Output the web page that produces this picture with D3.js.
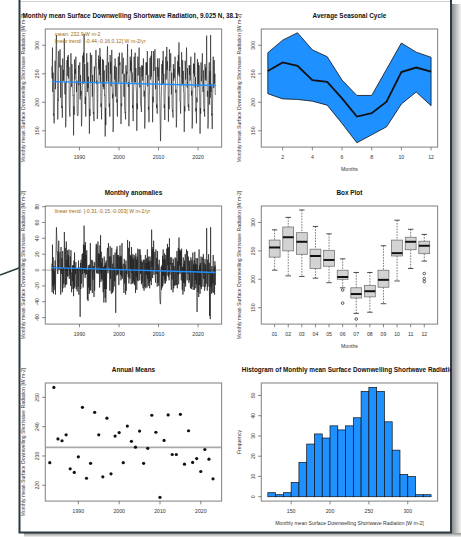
<!DOCTYPE html>
<html><head><meta charset="utf-8">
<script src="https://cdn.jsdelivr.net/npm/d3@7"></script>
<style>
body{margin:0;background:#fff;}
svg text{font-family:"Liberation Sans",Arial,Helvetica,sans-serif;}
</style></head>
<body><svg id="c" width="461" height="537"></svg>
<script>
// ---------------- DATA ----------------
const startYear = 1983;
const monthlyValues = [
263,242,296,218,252,177,180,163,200,228,273,223,
262,300,318,282,260,225,170,205,203,290,261,262,
272,293,270,208,265,202,190,194,173,277,238,257,
238,253,312,258,214,235,156,172,237,235,274,246,
280,262,283,242,262,196,180,175,218,233,286,237,
227,267,250,245,212,213,142,193,178,275,240,258,
250,280,240,218,238,180,177,176,180,265,230,247,
258,270,205,248,212,220,158,168,221,248,282,232,
287,270,320,235,267,197,210,175,220,248,286,247,
218,270,225,245,214,210,145,188,176,287,235,248,
262,283,243,210,248,195,180,183,167,263,235,257,
258,280,292,272,232,238,171,178,237,248,282,258,
275,248,295,235,280,192,198,170,210,240,276,235,
227,274,223,256,212,213,140,190,160,265,237,258,
278,298,260,236,270,210,192,198,175,283,250,271,
228,240,292,240,207,215,148,160,220,232,264,240,
277,265,210,245,262,200,205,175,220,248,280,235,
237,287,265,270,230,225,162,198,193,287,250,258,
260,278,250,210,250,190,182,183,170,265,235,254,
250,270,302,250,227,235,158,182,237,242,280,255,
273,252,293,235,252,190,195,167,215,236,280,235,
237,287,235,260,227,220,150,198,188,280,247,263,
272,296,260,226,262,202,194,194,183,265,245,264,
238,247,277,245,210,220,154,165,220,230,270,248,
270,248,290,228,248,187,192,165,212,230,278,240,
242,282,245,290,240,233,165,210,200,290,255,266,
272,293,257,223,262,202,190,196,180,277,245,261,
238,250,277,230,200,165,132,155,205,228,267,232,
273,250,290,232,250,190,196,169,214,236,280,240,
252,297,257,272,242,235,166,210,188,293,255,263,
262,286,247,214,252,195,184,186,173,267,238,259,
243,250,280,250,217,222,156,170,225,230,272,248,
283,252,305,245,262,202,200,180,225,240,288,247,
230,274,233,255,220,215,148,193,184,273,240,253,
272,296,257,226,260,202,192,196,185,265,248,265,
238,247,280,245,212,220,154,166,223,228,268,250,
267,245,287,226,244,184,190,163,208,200,276,235,
227,270,230,265,217,213,145,190,180,270,237,248,
265,286,250,218,256,196,184,188,175,267,240,261,
238,253,317,248,210,220,154,166,221,248,270,196,
255,208,318,218,232,177,180,153,198,236,280,225,
227,274,233,250,217,213
];
const meanValue = 232.9;
const trendSlope = -0.16;        // W m-2 / yr (from label)
const anomTrendSlope = -0.15;

const monthNumbers = [1,2,3,4,5,6,7,8,9,10,11,12];
const monthLabels = ["01","02","03","04","05","06","07","08","09","10","11","12"];
const seasonalMean = [255,270,264,239,236,207,175,181,201,253,261,254];
const seasonalMax  = [287,309,322,292,280,239,212,212,258,304,288,279];
const seasonalMin  = [215,206,205,202,195,163,129,143,157,197,218,194];

const boxLow  = [216,206,205,202,194,185,140,142,157,197,219,232];
const boxQ1   = [239,250,244,219,223,200,167,169,186,241,252,245];
const boxMed  = [256,274,266,241,234,204,174,179,199,246,266,259];
const boxQ3   = [269,292,282,253,251,216,185,189,216,269,274,267];
const boxHigh = [287,309,322,293,280,236,212,212,259,304,288,279];
const outlierMonth = [6,6,7,12,12,12];
const outlierValue = [181,158,130,210,201,196];

const annualYears = d3.range(1983, 2024);
const annualMeans = [227.7,253.4,235.8,235.2,237.2,225.6,224.4,229.7,246.6,222.4,
  227.5,244.9,237.2,222.9,242.9,223.9,236.8,238.0,227.7,240.2,
  235.0,233.0,238.5,227.5,232.6,243.9,238.1,215.9,235.3,244.0,
  230.5,230.5,244.2,227.2,238.6,227.8,229.1,224.7,232.2,228.9,222.2];

const histBreaks = [120,130,140,150,160,170,180,190,200,210,220,230,240,250,260,270,280,290,300,310,320,330];
const histCounts = [2,1,2,7,17,26,31,29,35,33,35,39,52,54,52,37,23,11,10,1,1];

const yearTicks = [1990,2000,2010,2020];
const radTicks = [150,200,250,300];
const anomTicks = [-60,-40,-20,0,20,40,60,80];
const monthTicks = [2,4,6,8,10,12];
const annualTicks = [220,230,240,250];
const histXTicks = [150,200,250,300];
const histYTicks = [0,10,20,30,40,50];

const titleMain = "Monthly mean Surface Downwelling Shortwave Radiation, 9.025 N, 38.1 E";
const yLab = "Monthly mean Surface Downwelling Shortwave Radiation [W m-2]";
const meanText = "mean: 232.9 W m-2";
const trendText1 = "linear trend: [-0.44,-0.16,0.12] W m-2/yr";
const trendText2 = "linear trend: [-0.31,-0.15,-0.003] W m-2/yr";

// ---------------- LAYOUT ----------------
const svg = d3.select("#c");
const BLUE = "#1e90ff", TXT="#333", BOXC="#8a8a8a", TICKC="#555", NOTE="#a36a12";
const devX = 19, devY = 2.7, colW = 216, rowH = 177;
const mL = 26.3, mR = 13.4, mT = 26.3, mB = 32.6;
function panelBox(col,row){
  const x0 = devX + col*colW + mL, x1 = devX + (col+1)*colW - mR;
  const y0 = devY + row*rowH + mT, y1 = devY + (row+1)*rowH - mB;
  return {x0,x1,y0,y1,cx:(x0+x1)/2,cy:(y0+y1)/2};
}

// page background / shadow / frame
const defs = svg.append("defs");
const gr = defs.append("linearGradient").attr("id","shR").attr("x1",0).attr("x2",1).attr("y1",0).attr("y2",0);
gr.append("stop").attr("offset",0).attr("stop-color","#8e8e8e");
gr.append("stop").attr("offset",1).attr("stop-color","#f2f2f2");
const gb = defs.append("linearGradient").attr("id","shB").attr("x1",0).attr("x2",0).attr("y1",0).attr("y2",1);
gb.append("stop").attr("offset",0).attr("stop-color","#8e8e8e");
gb.append("stop").attr("offset",1).attr("stop-color","#f2f2f2");
svg.append("rect").attr("x",452).attr("y",4).attr("width",9).attr("height",533).attr("fill","url(#shR)");
svg.append("rect").attr("x",24).attr("y",533).attr("width",437).attr("height",4).attr("fill","url(#shB)");
svg.append("rect").attr("x",20).attr("y",-4).attr("width",431).attr("height",536).attr("fill","#fff");
svg.append("line").attr("x1",21).attr("x2",450).attr("y1",1.5).attr("y2",1.5).attr("stroke","#cfcfcf").attr("stroke-width",1);
svg.append("rect").attr("x",19.5).attr("y",-4).attr("width",431.5).attr("height",536.5)
  .attr("fill","none").attr("stroke","#2c3b40").attr("stroke-width",2);
svg.append("line").attr("x1",0).attr("y1",275).attr("x2",19).attr("y2",268)
  .attr("stroke","#2c3b40").attr("stroke-width",1.5);

function frameBox(b){
  svg.append("rect").attr("x",b.x0).attr("y",b.y0).attr("width",b.x1-b.x0).attr("height",b.y1-b.y0)
    .attr("fill","none").attr("stroke",BOXC).attr("stroke-width",1.1);
}
function clip(id,b){
  defs.append("clipPath").attr("id",id).append("rect").attr("x",b.x0).attr("y",b.y0)
    .attr("width",b.x1-b.x0).attr("height",b.y1-b.y0);
  return svg.append("g").attr("clip-path",`url(#${id})`);
}
function yAxis(b, sc, ticks, fmt){
  const g = svg.append("g");
  ticks.forEach(t=>{
    const y = sc(t);
    g.append("line").attr("x1",b.x0).attr("x2",b.x0-3.2).attr("y1",y).attr("y2",y).attr("stroke",TICKC).attr("stroke-width",0.7);
    g.append("text").attr("transform",`translate(${b.x0-6.2},${y}) rotate(-90)`).attr("text-anchor","middle")
      .attr("font-size",5.2).attr("fill",TXT).text(fmt?fmt(t):t);
  });
}
function xAxis(b, sc, ticks, fmt){
  const g = svg.append("g");
  ticks.forEach((t,i)=>{
    const x = sc(t);
    g.append("line").attr("x1",x).attr("x2",x).attr("y1",b.y1).attr("y2",b.y1+3.2).attr("stroke",TICKC).attr("stroke-width",0.7);
    g.append("text").attr("x",x).attr("y",b.y1+12.2).attr("text-anchor","middle")
      .attr("font-size",5.2).attr("fill",TXT).text(fmt?fmt(t,i):t);
  });
}
function title(b, txt, clipId){
  const t = svg.append("text").attr("x",b.cx).attr("y",b.y0-11.5).attr("text-anchor","middle")
    .attr("font-size",6.4).attr("font-weight","bold").attr("fill","#111").text(txt);
  if(clipId) t.attr("clip-path",`url(#${clipId})`);
}
function ylabel(b, txt){
  svg.append("text").attr("transform",`translate(${b.x0-20.5},${b.cy}) rotate(-90)`).attr("text-anchor","middle")
    .attr("font-size",5.1).attr("fill",TXT).text(txt);
}
function xlabel(b, txt){
  svg.append("text").attr("x",b.cx).attr("y",b.y1+24).attr("text-anchor","middle")
    .attr("font-size",5.1).attr("fill",TXT).text(txt);
}
defs.append("clipPath").attr("id","figL").append("rect").attr("x",19).attr("y",0).attr("width",219).attr("height",537);
defs.append("clipPath").attr("id","figR").append("rect").attr("x",235).attr("y",0).attr("width",216).attr("height",537);

const tOf = i => startYear + i/12;
const tMid = startYear + (monthlyValues.length-1)/24;

// ---------- Panel 1: monthly series ----------
{
  const b = panelBox(0,0);
  const x = d3.scaleLinear().domain([1981.35,2025.95]).range([b.x0,b.x1]);
  const y = d3.scaleLinear().domain([121.4,328.6]).range([b.y1,b.y0]);
  const g = clip("cp1",b);
  g.append("path").datum(monthlyValues).attr("fill","none").attr("stroke","#1a1a1a").attr("stroke-width",0.6)
    .attr("stroke-linejoin","round")
    .attr("d",d3.line().x((d,i)=>x(tOf(i))).y(d=>y(d)));
  const t0 = tOf(0), t1 = tOf(monthlyValues.length-1);
  g.append("line").attr("x1",x(t0)).attr("x2",x(t1))
    .attr("y1",y(meanValue+trendSlope*(t0-tMid))).attr("y2",y(meanValue+trendSlope*(t1-tMid)))
    .attr("stroke",BLUE).attr("stroke-width",1.4);
  frameBox(b);
  yAxis(b,y,radTicks); xAxis(b,x,yearTicks);
  title(b,titleMain,"figL"); ylabel(b,yLab);
  svg.append("text").attr("x",b.x0+9.5).attr("y",b.y0+6.5).attr("font-size",5.2).attr("fill",NOTE).text(meanText);
  svg.append("text").attr("x",b.x0+9.5).attr("y",b.y0+14.3).attr("font-size",5.2).attr("fill",NOTE).text(trendText1);
}

// ---------- Panel 2: seasonal cycle ----------
{
  const b = panelBox(1,0);
  const x = d3.scaleLinear().domain([0.56,12.44]).range([b.x0,b.x1]);
  const y = d3.scaleLinear().domain([121.4,328.6]).range([b.y1,b.y0]);
  const g = clip("cp2",b);
  const poly = monthNumbers.map((m,i)=>[x(m),y(seasonalMax[i])])
    .concat(monthNumbers.slice().reverse().map((m)=>[x(m),y(seasonalMin[m-1])]));
  g.append("path").attr("d","M"+poly.join("L")+"Z").attr("fill",BLUE).attr("stroke","#111").attr("stroke-width",0.8);
  g.append("path").datum(seasonalMean).attr("fill","none").attr("stroke","#111").attr("stroke-width",1.8)
    .attr("d",d3.line().x((d,i)=>x(monthNumbers[i])).y(d=>y(d)));
  frameBox(b);
  yAxis(b,y,radTicks); xAxis(b,x,monthTicks);
  title(b,"Average Seasonal Cycle"); ylabel(b,yLab); xlabel(b,"Months");
}

// ---------- Panel 3: anomalies ----------
{
  const b = panelBox(0,1);
  const x = d3.scaleLinear().domain([1981.35,2025.95]).range([b.x0,b.x1]);
  const y = d3.scaleLinear().domain([-68.2,80.8]).range([b.y1,b.y0]);
  const anomalies = monthlyValues.map((v,i)=>v - seasonalMean[i%12]);
  const g = clip("cp3",b);
  g.append("line").attr("x1",b.x0).attr("x2",b.x1).attr("y1",y(0)).attr("y2",y(0)).attr("stroke","#999").attr("stroke-width",0.8);
  g.append("path").datum(anomalies).attr("fill","none").attr("stroke","#1a1a1a").attr("stroke-width",0.65)
    .attr("stroke-linejoin","round")
    .attr("d",d3.line().x((d,i)=>x(tOf(i))).y(d=>y(d)));
  const t0 = tOf(0), t1 = tOf(monthlyValues.length-1);
  g.append("line").attr("x1",x(t0)).attr("x2",x(t1))
    .attr("y1",y(anomTrendSlope*(t0-tMid))).attr("y2",y(anomTrendSlope*(t1-tMid)))
    .attr("stroke",BLUE).attr("stroke-width",1.4);
  frameBox(b);
  yAxis(b,y,anomTicks); xAxis(b,x,yearTicks);
  title(b,"Monthly anomalies"); ylabel(b,yLab);
  svg.append("text").attr("x",b.x0+9.5).attr("y",b.y0+6.5).attr("font-size",5.2).attr("fill",NOTE).text(trendText2);
}

// ---------- Panel 4: box plots ----------
{
  const b = panelBox(1,1);
  const x = d3.scaleLinear().domain([0.02,12.98]).range([b.x0,b.x1]);
  const y = d3.scaleLinear().domain([121.1,329]).range([b.y1,b.y0]);
  const g = svg.append("g");
  const hw = (x(1.4)-x(1))/1, sw = hw/2;
  monthNumbers.forEach((m,i)=>{
    const cx = x(m);
    g.append("line").attr("x1",cx).attr("x2",cx).attr("y1",y(boxHigh[i])).attr("y2",y(boxQ3[i]))
      .attr("stroke","#444").attr("stroke-width",0.7).attr("stroke-dasharray","1.6,1.2");
    g.append("line").attr("x1",cx).attr("x2",cx).attr("y1",y(boxQ1[i])).attr("y2",y(boxLow[i]))
      .attr("stroke","#444").attr("stroke-width",0.7).attr("stroke-dasharray","1.6,1.2");
    g.append("line").attr("x1",cx-sw).attr("x2",cx+sw).attr("y1",y(boxHigh[i])).attr("y2",y(boxHigh[i])).attr("stroke","#222").attr("stroke-width",0.8);
    g.append("line").attr("x1",cx-sw).attr("x2",cx+sw).attr("y1",y(boxLow[i])).attr("y2",y(boxLow[i])).attr("stroke","#222").attr("stroke-width",0.8);
    g.append("rect").attr("x",cx-hw).attr("y",y(boxQ3[i])).attr("width",2*hw).attr("height",y(boxQ1[i])-y(boxQ3[i]))
      .attr("fill","#d3d3d3").attr("stroke","#666").attr("stroke-width",0.7);
    g.append("line").attr("x1",cx-hw).attr("x2",cx+hw).attr("y1",y(boxMed[i])).attr("y2",y(boxMed[i])).attr("stroke","#111").attr("stroke-width",2);
  });
  outlierMonth.forEach((m,i)=>{
    g.append("circle").attr("cx",x(m)).attr("cy",y(outlierValue[i])).attr("r",1.3)
      .attr("fill","none").attr("stroke","#333").attr("stroke-width",0.8);
  });
  frameBox(b);
  yAxis(b,y,radTicks); xAxis(b,x,monthNumbers,(t,i)=>monthLabels[i]);
  title(b,"Box Plot"); ylabel(b,yLab); xlabel(b,"Months");
}

// ---------- Panel 5: annual means ----------
{
  const b = panelBox(0,2);
  const x = d3.scaleLinear().domain([1981.9,2025.1]).range([b.x0,b.x1]);
  const y = d3.scaleLinear().domain([214.6,254.9]).range([b.y1,b.y0]);
  const g = clip("cp5",b);
  g.append("line").attr("x1",b.x0).attr("x2",b.x1).attr("y1",y(meanValue)).attr("y2",y(meanValue))
    .attr("stroke","#aaa").attr("stroke-width",1.8);
  g.selectAll("circle").data(annualMeans).join("circle")
    .attr("cx",(d,i)=>x(annualYears[i])).attr("cy",d=>y(d)).attr("r",1.6).attr("fill","#111");
  frameBox(b);
  yAxis(b,y,annualTicks); xAxis(b,x,yearTicks);
  title(b,"Annual Means"); ylabel(b,yLab);
}

// ---------- Panel 6: histogram ----------
{
  const b = panelBox(1,2);
  const x = d3.scaleLinear().domain([111.6,338.4]).range([b.x0,b.x1]);
  const y = d3.scaleLinear().domain([-2.16,56.16]).range([b.y1,b.y0]);
  const g = svg.append("g");
  histCounts.forEach((c,i)=>{
    g.append("rect").attr("x",x(histBreaks[i])).attr("y",y(c)).attr("width",x(histBreaks[i+1])-x(histBreaks[i]))
      .attr("height",y(0)-y(c)).attr("fill",BLUE).attr("stroke","#111").attr("stroke-width",0.7);
  });
  frameBox(b);
  yAxis(b,y,histYTicks); xAxis(b,x,histXTicks);
  title(b,"Histogram of Monthly mean Surface Downwelling Shortwave Radiation","figR");
  ylabel(b,"Frequency"); xlabel(b,yLab);
}
</script>
</body></html>
